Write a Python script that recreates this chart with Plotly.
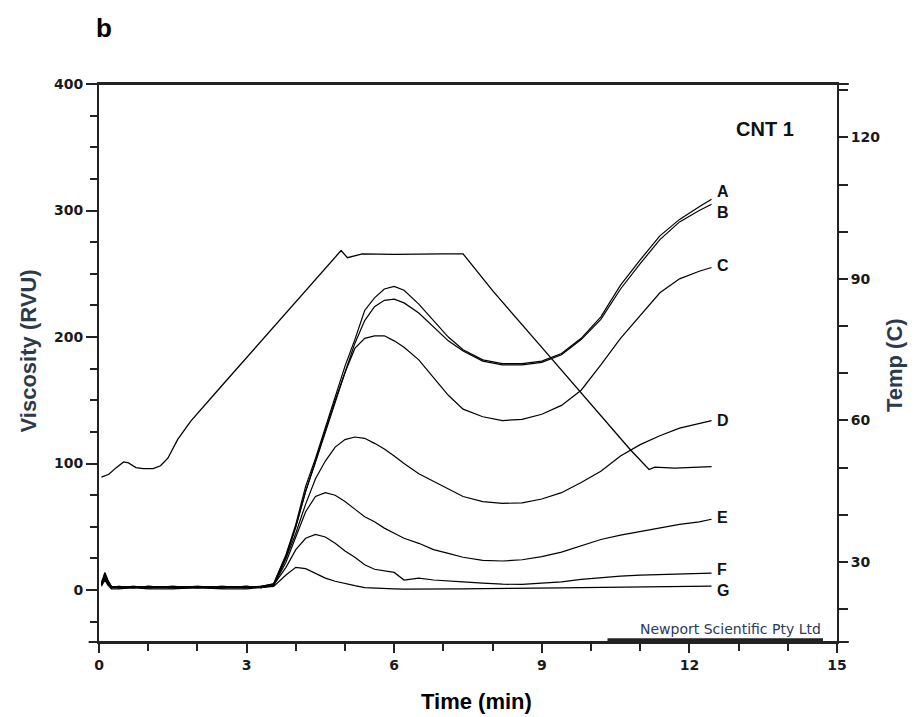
import plotly.graph_objects as go

# ---------------- data ----------------
time_min = [0.05, 0.12, 0.18, 0.25, 0.4, 0.7, 1.0, 1.5, 2.0, 2.5, 3.0, 3.3,
            3.55, 3.8, 4.0, 4.2, 4.4, 4.6, 4.8, 5.0, 5.2, 5.4, 5.6, 5.8, 6.0, 6.2,
            6.5, 6.8, 7.1, 7.4, 7.8, 8.2, 8.6, 9.0, 9.4, 9.8, 10.2, 10.6, 11.0,
            11.4, 11.8, 12.2, 12.45]

visc_A = [5, 12, 7, 3, 2, 3, 2, 3, 2, 3, 2, 3,
          5, 28, 52, 82, 104, 128, 152, 177, 198, 221, 231, 238, 240, 237, 226, 213, 200, 190,
          182, 179, 179, 181, 187, 199, 216, 241, 261, 280, 293, 303, 309]
visc_B = [4, 10, 6, 2, 3, 2, 3, 2, 3, 2, 3, 2,
          4, 26, 50, 78, 101, 125, 149, 172, 195, 213, 224, 229, 230, 227, 219, 208, 197, 189,
          181, 178, 178, 180, 186, 198, 214, 238, 258, 277, 291, 300, 305]
visc_C = [6, 14, 8, 3, 2, 2, 3, 2, 2, 3, 2, 3,
          5, 27, 50, 78, 102, 126, 150, 172, 191, 199, 201, 201, 197, 192, 182, 168, 154, 143,
          137, 134, 135, 139, 146, 158, 178, 199, 217, 235, 246, 252, 255]
visc_D = [5, 11, 6, 2, 3, 2, 2, 3, 2, 2, 3, 2,
          4, 25, 45, 68, 88, 102, 113, 119, 121, 120, 116, 111.5, 106, 100, 92, 86, 80, 74,
          70, 68.5, 69, 72, 77, 85, 94, 106, 115, 122, 128, 132, 134]
visc_E = [4, 9, 5, 2, 2, 3, 2, 2, 3, 2, 2, 3,
          4, 22, 42, 62, 74, 77, 75, 70, 64, 58, 54, 49, 45, 41, 37, 32, 29, 26,
          23.5, 23, 24, 26.5, 30, 35, 40, 43.5, 46.5, 49.5, 52, 54, 56]
visc_F = [5, 13, 7, 3, 2, 2, 3, 2, 2, 2, 3, 2,
          4, 18, 32, 41, 44, 42, 37, 31, 26, 20, 16.5, 15.5, 14, 8, 9.5, 8, 7, 6.5,
          5.5, 4.7, 4.5, 5.2, 6.5, 8.5, 10, 11, 11.8, 12.4, 12.8, 13.2, 13.5]
visc_G = [3, 8, 4, 1, 1, 2, 1, 1, 2, 1, 1, 2,
          3, 12, 18, 17, 13, 9.5, 7, 5, 3.5, 2, 1.5, 1.2, 1, 0.8, 1, 0.8, 1, 1,
          1.2, 1.2, 1.3, 1.5, 1.7, 2, 2.2, 2.4, 2.6, 2.8, 3, 3.1, 3.2]

series_names = ["A", "B", "C", "D", "E", "F", "G"]
series_values = [visc_A, visc_B, visc_C, visc_D, visc_E, visc_F, visc_G]

temp_time = [0.05, 0.2, 0.35, 0.5, 0.6, 0.75, 0.9, 1.1, 1.25, 1.4, 1.6, 1.87,
             2.5, 3.0, 3.5, 4.0, 4.5, 4.92, 5.05, 5.15, 5.35, 6.0, 6.5, 7.0, 7.4,
             8.0, 9.0, 10.0, 10.8, 11.18, 11.3, 11.7, 12.1, 12.45]
temp_C = [48.0, 48.6, 50.0, 51.2, 51.0, 50.0, 49.8, 49.8, 50.4, 52.0, 56.0, 59.9,
          67.4, 73.3, 79.2, 85.1, 91.0, 96.0, 94.5, 94.8, 95.3, 95.2, 95.3, 95.3, 95.3,
          87.5, 75.5, 63.5, 53.8, 49.6, 50.1, 49.9, 50.0, 50.2]

x_ticks = [0, 3, 6, 9, 12, 15]
visc_ticks = [0, 100, 200, 300, 400]
temp_ticks = [30, 60, 90, 120]

# ---------------- figure ----------------
fig = go.Figure()
for name, vals in zip(series_names, series_values):
    fig.add_trace(go.Scatter(x=time_min, y=vals, mode="lines", name=name,
                             line=dict(color="black", width=1.2), showlegend=False))

fig.add_trace(go.Scatter(x=temp_time, y=temp_C, mode="lines", name="Temp",
                         yaxis="y2", line=dict(color="black", width=1.3),
                         showlegend=False))

label_shift = {"A": 8, "B": -8, "C": 2, "D": 0, "E": 2, "F": 4, "G": -4}
for name, vals in zip(series_names, series_values):
    fig.add_annotation(x=time_min[-1], y=vals[-1], text=f"<b>{name}</b>",
                       xanchor="left", yanchor="middle", xshift=3,
                       yshift=label_shift[name], showarrow=False,
                       font=dict(family="Liberation Sans", size=16, color="#111"))

tick_font = dict(family="DejaVu Sans", size=14, color="#1a1a1a", weight="bold")
axis_common = dict(showgrid=False, zeroline=False, showline=True,
                   linecolor="#222", linewidth=2, ticks="outside",
                   tickcolor="#222", tickwidth=2, tickfont=tick_font)

fig.update_layout(
    width=917, height=717,
    margin=dict(l=91, r=88, t=76, b=83),
    paper_bgcolor="white", plot_bgcolor="white",
    xaxis=dict(range=[0, 15], tickvals=x_ticks, ticklen=9, mirror=True,
               minor=dict(dtick=1, ticklen=7, ticks="outside", tickcolor="#222", tickwidth=2),
               **axis_common),
    yaxis=dict(range=[-41, 400], tickvals=visc_ticks, ticklen=11,
               minor=dict(dtick=25, ticklen=7, ticks="outside", tickcolor="#222", tickwidth=2),
               **axis_common),
    yaxis2=dict(range=[13.05, 131.3], tickvals=temp_ticks, ticklen=9,
                overlaying="y", side="right",
                minor=dict(tick0=0, dtick=10, ticklen=9, ticks="outside", tickcolor="#222", tickwidth=2),
                **axis_common),
)

def note(x, y, text, size, color, angle=0, family="Liberation Sans", xa="center", ya="middle"):
    fig.add_annotation(xref="paper", yref="paper", x=x, y=y, text=text, textangle=angle,
                       xanchor=xa, yanchor=ya, showarrow=False,
                       font=dict(family=family, size=size, color=color))

note(0.0068, 1.100, "<b>b</b>", 26, "black")
note(-0.096, 0.521, "<b>Viscosity (RVU)</b>", 22, "#2c3a4c", angle=-90)
note(1.077, 0.496, "<b>Temp (C)</b>", 22, "#2c3a4c", angle=-90)
note(0.511, -0.106, "<b>Time (min)</b>", 22, "black")
note(0.902, 0.919, "<b>CNT 1</b>", 20, "#111")
note(0.981, 0.006, "Newport Scientific Pty Ltd", 14, "#2a3a5a",
     family="DejaVu Sans", xa="right", ya="bottom")

fig.add_shape(type="line", xref="paper", yref="paper", x0=0.689, x1=0.981, y0=0.004, y1=0.004,
              line=dict(color="#222", width=3))
# axis line extensions beyond the frame, as in the original instrument plot
fig.add_shape(type="line", xref="paper", yref="paper", x0=-0.014, x1=1.016, y0=0, y1=0,
              line=dict(color="#222", width=2))
fig.add_shape(type="line", xref="paper", yref="paper", x0=0, x1=1.016, y0=1, y1=1,
              line=dict(color="#222", width=2))

fig.write_html("out.html")
